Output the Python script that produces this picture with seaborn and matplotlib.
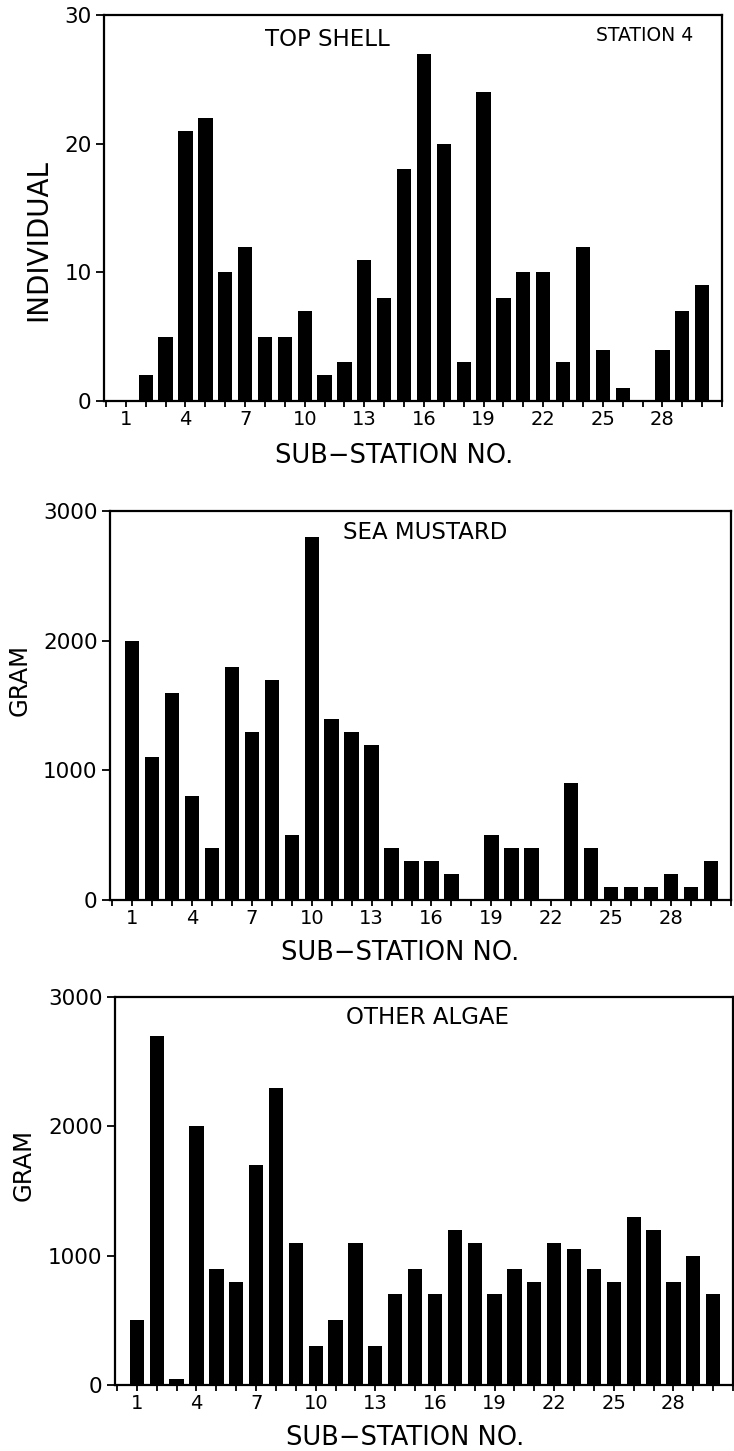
import matplotlib
matplotlib.use("Agg")
import matplotlib.pyplot as plt
import seaborn as sns
import pandas as pd

# Sub-station numbers along the transect
stations = list(range(1, 31))

# Top shell counts (individuals)
top_shell = [0, 2, 5, 21, 22, 10, 12, 5, 5, 7, 2, 3, 11, 8, 18,
             27, 20, 3, 24, 8, 10, 10, 3, 12, 4, 1, 0, 4, 7, 9]

# Sea mustard biomass (gram)
sea_mustard = [2000, 1100, 1600, 800, 400, 1800, 1300, 1700, 500, 2800,
               1400, 1300, 1200, 400, 300, 300, 200, 0, 500, 400,
               400, 0, 900, 400, 100, 100, 100, 200, 100, 300]

# Other algae biomass (gram)
other_algae = [500, 2700, 50, 2000, 900, 800, 1700, 2300, 1100, 300,
               500, 1100, 300, 700, 900, 700, 1200, 1100, 700, 900,
               800, 1100, 1050, 900, 800, 1300, 1200, 800, 1000, 700]

xtick_labels = [1, 4, 7, 10, 13, 16, 19, 22, 25, 28]
yticks_count = [0, 10, 20, 30]
yticks_gram = [0, 1000, 2000, 3000]

sns.set_style("ticks")
plt.rcParams["font.family"] = ["DejaVu Sans"]
plt.rcParams.update({
    "text.color": "black",
    "axes.labelcolor": "black",
    "xtick.color": "black",
    "ytick.color": "black",
    "axes.edgecolor": "black",
})

fig = plt.figure(figsize=(7.34, 14.51), dpi=100)

panels = [
    dict(rect=[0.1417, 0.7236, 0.842, 0.266], values=top_shell, yticks=yticks_count,
         ylabel="INDIVIDUAL", title="TOP SHELL", tpos=(0.361, 0.938),
         ylc=(-0.084, 0.417), xlc=(0.469, -0.109), ylsize=20),
    dict(rect=[0.1499, 0.3797, 0.846, 0.268], values=sea_mustard, yticks=yticks_gram,
         ylabel="GRAM", title="SEA MUSTARD", tpos=(0.507, 0.946),
         ylc=(-0.126, 0.566), xlc=(0.467, -0.103), ylsize=17.5),
    dict(rect=[0.1567, 0.0455, 0.842, 0.2674], values=other_algae, yticks=yticks_gram,
         ylabel="GRAM", title="OTHER ALGAE", tpos=(0.505, 0.948),
         ylc=(-0.129, 0.567), xlc=(0.469, -0.103), ylsize=17.5),
]

for i, p in enumerate(panels):
    ax = fig.add_axes(p["rect"])
    df = pd.DataFrame({"station": stations, "value": p["values"]})
    sns.barplot(data=df, x="station", y="value", native_scale=True,
                color="black", saturation=1, width=0.72, errorbar=None,
                linewidth=0, ax=ax)
    ax.set_xlim(-0.1, 31.0)
    ax.set_ylim(p["yticks"][0], p["yticks"][-1])

    ticks = list(range(0, 32))
    ax.set_xticks(ticks)
    ax.set_xticklabels([str(t) if t in xtick_labels else "" for t in ticks])
    ax.set_yticks(p["yticks"])
    ax.set_yticklabels([str(v) for v in p["yticks"]])

    ax.tick_params(axis="x", direction="out", length=4.5, width=1.3,
                   labelsize=14, pad=2, color="black", labelcolor="black")
    ax.tick_params(axis="y", direction="out", length=6, width=1.3,
                   labelsize=15.5, pad=3, color="black", labelcolor="black")
    for s in ax.spines.values():
        s.set_visible(True)
        s.set_linewidth(1.6)
        s.set_color("black")

    ax.set_xlabel("SUB\u2212STATION NO.", fontsize=18.5, color="black")
    ax.set_ylabel(p["ylabel"], fontsize=p["ylsize"], color="black")
    ax.xaxis.set_label_coords(*p["xlc"])
    ax.yaxis.set_label_coords(*p["ylc"])

    ax.text(p["tpos"][0], p["tpos"][1], p["title"], transform=ax.transAxes,
            ha="center", va="center", fontsize=16.5, color="black")
    if i == 0:
        ax.text(0.874, 0.948, "STATION 4", transform=ax.transAxes,
                ha="center", va="center", fontsize=13.5, color="black")

fig.savefig("out.png", dpi=100)
